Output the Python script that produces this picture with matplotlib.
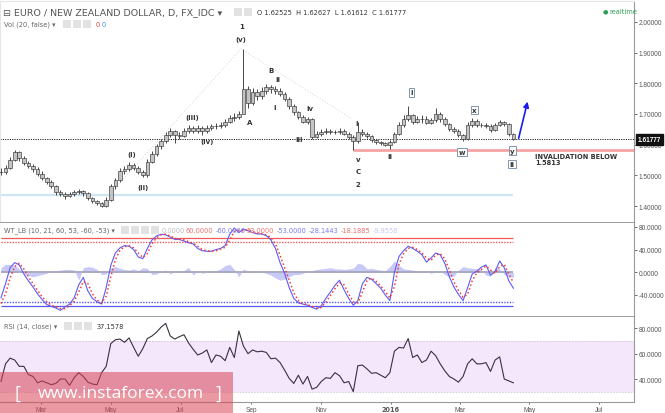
"""
EUR/NZD daily chart with Elliott wave labels, WT_LB oscillator and RSI(14).
Values are read off the reference screenshot (sampled every 4 calendar days).
"""
import numpy as np
import pandas as pd
import matplotlib
matplotlib.use("Agg")
import matplotlib.pyplot as plt
import matplotlib.dates as mdates
from matplotlib.patches import Rectangle

START_DATE = "2015-01-25"
STEP = "4D"

CLOSE = [
    1.510, 1.525, 1.550, 1.575, 1.555, 1.540, 1.530, 1.520, 1.505, 1.490,
    1.478, 1.465, 1.445, 1.440, 1.432, 1.440, 1.445, 1.448, 1.442, 1.425,
    1.415, 1.410, 1.400, 1.420, 1.465, 1.485, 1.515, 1.520, 1.535, 1.525,
    1.510, 1.500, 1.545, 1.570, 1.595, 1.612, 1.632, 1.645, 1.630, 1.628,
    1.645, 1.655, 1.645, 1.655, 1.643, 1.655, 1.660, 1.662, 1.665, 1.675,
    1.688, 1.690, 1.700, 1.780, 1.735, 1.770, 1.760, 1.775, 1.787, 1.780,
    1.775, 1.765, 1.750, 1.725, 1.705, 1.690, 1.675, 1.682, 1.625, 1.635,
    1.642, 1.645, 1.641, 1.640, 1.646, 1.636, 1.626, 1.612, 1.640, 1.635,
    1.628, 1.615, 1.608, 1.605, 1.598, 1.610, 1.635, 1.665, 1.685, 1.695,
    1.675, 1.682, 1.685, 1.672, 1.680, 1.700, 1.684, 1.667, 1.652, 1.646,
    1.632, 1.620, 1.665, 1.678, 1.663, 1.665, 1.662, 1.648, 1.665, 1.673,
    1.668, 1.635, 1.618,
]
HIGH = [
    1.525, 1.533, 1.560, 1.583, 1.578, 1.563, 1.546, 1.538, 1.526, 1.513,
    1.496, 1.484, 1.470, 1.453, 1.446, 1.447, 1.452, 1.456, 1.453, 1.447,
    1.431, 1.420, 1.414, 1.428, 1.473, 1.492, 1.523, 1.529, 1.543, 1.539,
    1.531, 1.516, 1.553, 1.578, 1.602, 1.620, 1.640, 1.655, 1.649, 1.640,
    1.653, 1.663, 1.661, 1.665, 1.660, 1.664, 1.668, 1.672, 1.673, 1.684,
    1.698, 1.702, 1.710, 1.910, 1.790, 1.785, 1.782, 1.787, 1.797, 1.795,
    1.790, 1.783, 1.771, 1.755, 1.731, 1.711, 1.696, 1.690, 1.686, 1.643,
    1.650, 1.653, 1.650, 1.647, 1.654, 1.650, 1.641, 1.630, 1.674, 1.650,
    1.641, 1.632, 1.620, 1.612, 1.609, 1.615, 1.642, 1.673, 1.695, 1.725,
    1.700, 1.692, 1.697, 1.693, 1.688, 1.718, 1.705, 1.689, 1.671, 1.657,
    1.650, 1.636, 1.675, 1.686, 1.682, 1.671, 1.670, 1.666, 1.671, 1.681,
    1.678, 1.670, 1.638,
]
LOW = [
    1.500, 1.505, 1.521, 1.546, 1.547, 1.534, 1.524, 1.512, 1.499, 1.484,
    1.472, 1.459, 1.437, 1.434, 1.424, 1.428, 1.434, 1.440, 1.434, 1.419,
    1.409, 1.404, 1.396, 1.396, 1.416, 1.457, 1.479, 1.505, 1.514, 1.517,
    1.504, 1.496, 1.496, 1.539, 1.564, 1.587, 1.606, 1.626, 1.605, 1.618,
    1.624, 1.637, 1.637, 1.639, 1.633, 1.639, 1.647, 1.652, 1.654, 1.659,
    1.670, 1.676, 1.682, 1.700, 1.720, 1.730, 1.745, 1.750, 1.765, 1.768,
    1.765, 1.757, 1.742, 1.717, 1.697, 1.682, 1.669, 1.667, 1.619, 1.621,
    1.629, 1.636, 1.635, 1.635, 1.636, 1.630, 1.620, 1.583, 1.605, 1.627,
    1.622, 1.610, 1.602, 1.599, 1.594, 1.585, 1.606, 1.630, 1.657, 1.677,
    1.667, 1.669, 1.672, 1.666, 1.668, 1.674, 1.674, 1.661, 1.644, 1.638,
    1.626, 1.613, 1.616, 1.659, 1.657, 1.657, 1.654, 1.640, 1.644, 1.660,
    1.662, 1.629, 1.616,
]

WT1 = [
    -45, -20, 8, 17, 13, -3, -15, -26, -38, -48,
    -57, -60, -63, -67, -61, -56, -45, -22, -9, -33,
    -46, -52, -56, -27, 12, 34, 43, 47, 46, 40,
    27, 24, 42, 57, 64, 67, 66, 62, 58, 58,
    55, 52, 50, 42, 38, 37, 37, 40, 42, 47,
    67, 78, 70, 76, 73, 70, 67.5, 67.5, 64.5, 57,
    42, 17, -2, -27, -46, -54, -56, -58, -62, -65,
    -59, -46, -35, -23, -14, -31, -46, -58, -50, -20,
    -9, -12, -20, -28, -40, -50, 0, 28, 38, 46,
    42, 37, 31, 18, 25, 34, 31, 16, -8, -26,
    -39, -50, -27, -3, 2, 9, 13, -5, 1, 20,
    8, -15, -28.1,
]
WT2 = [
    -55, -38, -10, 10, 16, 6, -8, -20, -32, -43,
    -52, -58, -61, -64, -64, -59, -51, -35, -16, -20,
    -38, -49, -54, -42, -8, 22, 39, 45, 47, 43,
    34, 26, 33, 50, 61, 66, 67, 64, 60, 58,
    57, 54, 51, 46, 40, 38, 37, 38, 41, 44,
    57, 72, 74, 73, 75, 72, 69, 68, 66, 61,
    50, 30, 8, -14, -36, -50, -55, -57, -60, -63,
    -62, -53, -41, -29, -19, -22, -38, -52, -54, -35,
    -15, -10, -16, -24, -34, -45, -25, 14, 33, 42,
    44, 40, 34, 25, 21, 30, 33, 24, 4, -17,
    -32, -44, -39, -15, -1, 5, 11, 4, -2, 10,
    14, -3, -18.2,
]
WT_HIST = [
    8, 14, 14, 12, 6, -3, -6, -8, -6, -4,
    -2, 2, 3, 4, 5, 5, 4, -14, 8, 10,
    9, 5, -4, -3, 8, 10, 7, 5, 4, 6,
    3, 8, 7, -4, -3, 2, 4, -3, 2, 0,
    3, 9, -5, 3, -2, 1, 2, 3, 6, 12,
    14, 5, -8, 6, 2, 1, 1, 0, -2, -5,
    -10, -14, -12, -8, -4, -4, -2, 2, 3, 5,
    6, 7, 8, 6, 6, 5, 6, 7, 16, 14,
    6, 7, 5, 4, 3, 10, 20, 12, 6, 5,
    4, 2, 2, 3, -2, 2, 3, -4, -8, -7,
    4, 10, 8, 7, 6, 5, -5, -7, 9, 6,
    -4, -8, -9,
]
RSI = [
    38, 52, 56.5, 55, 50, 50, 43.5, 42, 37, 38.5,
    37, 35.5, 36.5, 40, 40, 35, 41, 45, 42, 37.5,
    36, 35.5, 45, 50, 68, 71, 71.6, 69, 72.5, 65,
    58, 64, 72, 74, 77, 81, 84, 74, 71.6, 73.5,
    75, 68.5, 63.5, 59, 60.5, 63, 53, 59, 58, 54.5,
    65, 57, 78, 66, 60, 63, 61.5, 62, 61, 56,
    56.5, 53, 47, 40.5, 36.5, 43, 36, 42, 32, 33.4,
    38, 41, 40.5, 45, 42.6, 37, 38, 30, 50.5, 51,
    48, 44.5, 45, 43, 41, 45, 62, 65, 64.5, 72,
    57, 59, 53, 55, 62, 58.5, 52, 46.5, 42, 40,
    37.5, 42, 52, 56, 52, 52, 53, 46, 55, 57.5,
    40, 38.5, 37,
]

LAST_PRICE = 1.61777
INVALIDATION = 1.5813
SUPPORT = 1.437
PRICE_TICKS = [1.4, 1.5, 1.6, 1.7, 1.8, 1.9, 2.0]
WT_TICKS = [-40, 0, 40, 80]
RSI_TICKS = [40, 60, 80]

W, H = 665, 414
TICK_FONT = "Liberation Sans"


def fxy(px, py):
    return px / W, 1 - py / H


def d2n(s):
    return mdates.datestr2num(s)


def month_fmt(v, pos=None):
    d = mdates.num2date(v)
    return str(d.year) if d.month == 1 else d.strftime("%b")


def style_axis(ax, ticks, fmt):
    ax.yaxis.tick_right()
    ax.set_yticks(ticks)
    ax.yaxis.set_major_formatter(matplotlib.ticker.FormatStrFormatter(fmt))
    ax.tick_params(axis="y", labelsize=4.7, colors="#555555", length=2, pad=1.5, width=0.6)
    for lab in ax.get_yticklabels():
        lab.set_family(TICK_FONT)
    ax.tick_params(axis="x", length=0, labelbottom=False)
    for side in ("left", "top", "bottom"):
        ax.spines[side].set_visible(False)
    ax.spines["right"].set_color("#9a9a9a")
    ax.spines["right"].set_linewidth(0.8)


def main():
    dates = pd.date_range(START_DATE, periods=len(CLOSE), freq=STEP)
    x = mdates.date2num(dates.to_pydatetime())
    close = np.array(CLOSE)
    opens = np.r_[close[0], close[:-1]]

    px_per_day = 350 / 306
    x_left = d2n("2015-03-01") - 41 / px_per_day
    x_right = x_left + 634 / px_per_day

    fig = plt.figure(figsize=(W / 100, H / 100), dpi=100)
    ax = fig.add_axes([0, 1 - 224.3 / H, 634 / W, 222.3 / H])
    axw = fig.add_axes([0, 1 - 318.3 / H, 634 / W, 94 / H])
    axr = fig.add_axes([0, 1 - 402.7 / H, 634 / W, 84.4 / H])

    # ---- price panel
    ax.vlines(x, LOW, HIGH, color="#2a2a2a", lw=0.6, zorder=3)
    ax.bar(x, close - opens, bottom=opens, width=3.2, color="#c4c4c4",
           edgecolor="#222222", linewidth=0.4, zorder=4)
    ax.axhline(LAST_PRICE, color="#222222", lw=0.7, ls=(0, (1.2, 1.2)), zorder=2)
    ax.hlines(SUPPORT, x[0], x[-1], color="#cfe5f1", lw=1.6, zorder=1)
    ax.hlines(INVALIDATION, d2n("2015-11-29"), x_right, color="#f6a3a3", lw=2, zorder=1)
    # faint wave trend lines
    ax.plot([d2n("2015-04-30"), d2n("2015-08-23"), d2n("2015-11-28")],
            [1.439, 1.912, 1.684], color="#d6d6d6", lw=0.7, ls=(0, (1, 2)), zorder=1)
    ax.set_xlim(x_left, x_right)
    ax.set_ylim(1.3438, 2.068)
    style_axis(ax, PRICE_TICKS, "%.5f")
    ax.spines["bottom"].set_visible(True)
    ax.spines["bottom"].set_color("#8a8a8a")
    ax.spines["bottom"].set_linewidth(1.2)
    ax.spines["top"].set_visible(True)
    ax.spines["top"].set_color("#e6e6e6")
    ax.spines["left"].set_visible(True)
    ax.spines["left"].set_color("#e6e6e6")

    ax.annotate(f"{LAST_PRICE:.5f}", xy=(1, LAST_PRICE), xycoords=("axes fraction", "data"),
                xytext=(2.5, 0), textcoords="offset points", ha="left", va="center",
                fontsize=4.7, fontweight="bold", color="white", zorder=10, family=TICK_FONT,
                bbox=dict(boxstyle="square,pad=0.3", fc="#111111", ec="#111111"),
                annotation_clip=False)

    wave_kw = dict(ha="center", va="center", fontsize=5, fontweight="bold", color="#333333", zorder=6)
    waves = [
        ("1", "2015-08-23", 1.987), ("(v)", "2015-08-23", 1.944), ("B", "2015-09-18", 1.843),
        ("ii", "2015-09-24", 1.814), ("A", "2015-08-30", 1.674), ("i", "2015-09-21", 1.723),
        ("iv", "2015-10-22", 1.720), ("iii", "2015-10-13", 1.619), ("(iii)", "2015-07-11", 1.690),
        ("(iv)", "2015-07-24", 1.612), ("(i)", "2015-05-19", 1.570), ("(ii)", "2015-05-29", 1.462),
        ("i", "2015-12-02", 1.671), ("v", "2015-12-03", 1.553), ("C", "2015-12-03", 1.514),
        ("2", "2015-12-03", 1.472), ("ii", "2015-12-31", 1.563),
    ]
    for s, d, p in waves:
        ax.text(d2n(d), p, s, **wave_kw)
    boxed = [("i", "2016-01-19", 1.771), ("w", "2016-03-03", 1.576), ("x", "2016-03-14", 1.713),
             ("y", "2016-04-16", 1.580), ("ii", "2016-04-16", 1.537)]
    for s, d, p in boxed:
        ax.text(d2n(d), p, s, bbox=dict(boxstyle="square,pad=0.2", fc="white", ec="#8096ad", lw=0.7),
                **wave_kw)

    ax.annotate("", xy=(d2n("2016-04-30"), 1.749), xytext=(d2n("2016-04-21"), 1.612),
                arrowprops=dict(arrowstyle="-|>", color="#1c1cf0", lw=1.2, mutation_scale=8),
                zorder=6)
    ax.text(d2n("2016-05-06"), 1.5727, "INVALIDATION BELOW\n1.5813", ha="left", va="top",
            fontsize=4.8, fontweight="bold", color="#333333", linespacing=1.0, zorder=6)

    # ---- WT_LB panel
    axw.fill_between(x, 0, WT_HIST, color="#9494f0", alpha=0.5, lw=0, zorder=1)
    axw.hlines(0, x[0], x[-1], color="#a6a6bc", lw=1.3, zorder=2)
    axw.hlines(60, x[0], x[-1], color="#f25a5a", lw=0.9, zorder=2)
    axw.hlines(53, x[0], x[-1], color="#f25a5a", lw=1.0, ls=(0, (1, 1)), zorder=2)
    axw.hlines(-53, x[0], x[-1], color="#5a5af2", lw=1.0, ls=(0, (1, 1)), zorder=2)
    axw.hlines(-60, x[0], x[-1], color="#5a5af2", lw=0.9, zorder=2)
    axw.plot(x, WT1, color="#5c5cf6", lw=0.8, zorder=3)
    axw.plot(x, WT2, color="#f23c3c", lw=1.1, ls=(0, (1, 1.6)), zorder=4)
    axw.set_xlim(x_left, x_right)
    axw.set_ylim(-79.3, 86.3)
    style_axis(axw, WT_TICKS, "%.4f")
    axw.spines["bottom"].set_visible(True)
    axw.spines["bottom"].set_color("#8a8a8a")
    axw.spines["bottom"].set_linewidth(1.2)

    # ---- RSI panel
    axr.axhspan(30, 70, color="#f4e7fb", lw=0, zorder=0)
    axr.axhline(70, color="#cfc6d8", lw=0.6, ls=(0, (2, 1.5)), zorder=1)
    axr.axhline(30, color="#cfc6d8", lw=0.6, ls=(0, (2, 1.5)), zorder=1)
    axr.plot(x, RSI, color="#3a3040", lw=0.8, zorder=3)
    axr.set_xlim(x_left, x_right)
    axr.set_ylim(22.05, 88.8)
    style_axis(axr, RSI_TICKS, "%.4f")
    axr.spines["bottom"].set_visible(True)
    axr.spines["bottom"].set_color("#9a9a9a")
    axr.xaxis.set_major_locator(mdates.MonthLocator(bymonth=[1, 3, 5, 7, 9, 11]))
    axr.xaxis.set_major_formatter(matplotlib.ticker.FuncFormatter(month_fmt))
    axr.tick_params(axis="x", labelbottom=True, labelsize=4.7, colors="#555555",
                    length=1.5, pad=1.5, width=0.6)
    fig.canvas.draw()
    for lab in axr.get_xticklabels():
        if lab.get_text() == "2016":
            lab.set_fontweight("bold")
        else:
            lab.set_family(TICK_FONT)

    # ---- header texts
    fig.text(*fxy(3, 13), "\u229f EURO / NEW ZEALAND DOLLAR, D, FX_IDC \u25be",
             fontsize=6.8, color="#555555", va="center")
    fig.text(*fxy(257, 13), "O 1.62525  H 1.62627  L 1.61612  C 1.61777",
             fontsize=4.8, color="#333333", va="center")
    fig.text(*fxy(4, 25), "Vol (20, false) \u25be", fontsize=4.8, color="#666666", va="center")
    fig.text(*fxy(96, 25), "0", fontsize=4.8, color="#e04040", va="center")
    fig.text(*fxy(102, 25), "0", fontsize=4.8, color="#3a8ee6", va="center")
    fig.text(*fxy(603, 12), "\u25cf", fontsize=4.5, color="#2e9e55", va="center")
    fig.text(*fxy(609, 12), "realtime", fontsize=4.8, color="#2e9e55", va="center")

    fig.text(*fxy(4, 231), "WT_LB (10, 21, 60, 53, -60, -53) \u25be",
             fontsize=4.8, color="#666666", va="center")
    wt_vals = [(162, "0.0000", "#bdbdbd"), (186, "60.0000", "#f07070"), (216, "-60.0000", "#7a7af0"),
               (246, "53.0000", "#f07070"), (277, "-53.0000", "#7a7af0"), (309, "-28.1443", "#7a7af0"),
               (341, "-18.1885", "#f07070"), (373, "-9.9558", "#c6c6f2")]
    for px, s, c in wt_vals:
        fig.text(*fxy(px, 231), s, fontsize=4.8, color=c, va="center")

    fig.text(*fxy(4, 327), "RSI (14, close) \u25be", fontsize=4.8, color="#666666", va="center")
    fig.text(*fxy(97, 327), "37.1578", fontsize=4.8, color="#333333", va="center")

    icons = [(234, 13, 2), (63, 25, 3), (121, 231, 4), (64, 327, 3)]
    for px, py, n in icons:
        for k in range(n):
            fx, fy = fxy(px + k * 10, py + 4)
            fig.patches.append(Rectangle((fx, fy), 8 / W, 8 / H, transform=fig.transFigure,
                                         fc="#e2e2e2", ec="none", zorder=5))

    # ---- watermark
    fx, fy = fxy(0, 414)
    fig.patches.append(Rectangle((fx, fy), 233 / W, 41 / H, transform=fig.transFigure,
                                 fc="#d94456", ec="none", alpha=0.55, zorder=20))
    fig.text(*fxy(15, 394), "[", fontsize=13, color="white", va="center", ha="left",
             family="Open Sans", zorder=21)
    fig.text(*fxy(121, 394), "www.instaforex.com", fontsize=12.5, color="white", va="center",
             ha="center", family="Open Sans", zorder=21)
    fig.text(*fxy(216, 394), "]", fontsize=13, color="white", va="center", ha="left",
             family="Open Sans", zorder=21)

    fig.savefig("out.png", dpi=100)


if __name__ == "__main__":
    main()
